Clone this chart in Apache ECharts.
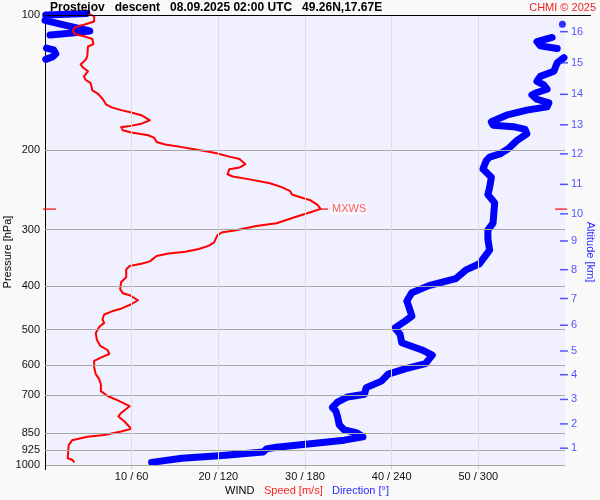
<!DOCTYPE html>
<html>
<head>
<meta charset="utf-8">
<script src="https://cdn.jsdelivr.net/npm/echarts@6/dist/echarts.min.js"></script>
<style>html,body{margin:0;padding:0;background:#f9f9f9;}#c{width:600px;height:500px;}</style>
</head>
<body>
<div id="c"></div>
<script>
// ---- data ----
const pressureTicks = [100, 200, 300, 400, 500, 600, 700, 850, 925, 1000];
const speedTicks = [10, 20, 30, 40, 50];
const directionTicks = [60, 120, 180, 240, 300];
const altitudeKm = [1, 2, 3, 4, 5, 6, 7, 8, 9, 10, 11, 12, 13, 14, 15, 16];
const altitudePressure = [917.6, 810.3, 714.9, 630.0, 558.0, 489.2, 426.6, 368.1, 317.8, 276.6, 237.9, 203.5, 175.4, 150.1, 127.7, 108.9];
const maxWindPressure = 270;
const maxWindSpeed = 31.8;

// wind speed [m/s, hPa]
const speedData = [
  [3.40, 986.6], [3.13, 973.4], [2.62, 966], [2.67, 936], [2.73, 903.7], [3.13, 880.6],
  [4.88, 865.5], [6.83, 857.8], [8.78, 842.8], [9.96, 831.3], [9.17, 800.3], [8.47, 779.9],
  [8.78, 766.3], [9.76, 740.2], [8.40, 718.6], [7.22, 702.5], [6.45, 685.3], [6.45, 661.4],
  [6.25, 644.5], [5.86, 628.1], [5.67, 606.5], [5.67, 586.9], [6.63, 575], [7.42, 566.7],
  [7.22, 555.2], [6.37, 543.6], [5.98, 527.1], [5.86, 509.2], [6.25, 493.6], [6.83, 483.3],
  [6.63, 475.0], [6.83, 463.0], [7.81, 454.9], [8.78, 449.4], [9.96, 439.3], [10.73, 430.4],
  [9.76, 419.4], [8.98, 415.1], [8.67, 406.5], [8.78, 392.7], [9.37, 382.5], [9.37, 367.6],
  [9.76, 361.3], [11.12, 357.1], [12.10, 352.8], [12.88, 343.1], [14.25, 338.9], [16.20, 335.9],
  [17.76, 331.2], [18.92, 325.5], [19.51, 320], [19.71, 314], [19.90, 308.5], [20.49, 303.8],
  [22.05, 300.7], [24.39, 294.4], [26.72, 290.3], [29.06, 280.4], [30.63, 274.3], [31.80, 269.6],
  [31.41, 263.9], [30.63, 258.1], [29.46, 254.1], [28.49, 250.6], [28.29, 246.2], [27.31, 241.3],
  [25.95, 236.6], [23.61, 231.9], [21.66, 228.6], [21.07, 225.9], [21.27, 220.1], [22.44, 218.3],
  [23.13, 214.6], [22.44, 209.0], [21.27, 206.4], [19.90, 203.1], [18.92, 201.3], [17.37, 199.0],
  [15.81, 196.6], [13.86, 194.0], [12.88, 191.6], [12.61, 187.5], [11.91, 185.0], [9.96, 182.4],
  [8.98, 180.4], [8.78, 177.5], [9.57, 176.8], [11.12, 174.4], [12.10, 171.4], [11.12, 167.0],
  [9.96, 164.7], [8.78, 162.7], [7.70, 160.4], [7.03, 157.9], [6.68, 153.9], [6.13, 149.7],
  [5.47, 147.1], [5.27, 141.7], [4.68, 139.3], [4.49, 136.9], [4.96, 133.4], [4.42, 131.0],
  [4.11, 128.8], [4.73, 125.5], [4.88, 123.3], [4.96, 117.5], [5.58, 116.1], [5.47, 113.1],
  [4.49, 111.5], [3.40, 110.2], [3.21, 108.3], [3.52, 106.4], [4.49, 105.1], [5.67, 103.4],
  [5.67, 100.6], [5.0, 99.4]
];

// wind direction [deg, hPa]; null = break (wrap-around)
const directionData = [
  [73.8, 986.6], [94.8, 966], [122.9, 952], [151.0, 936], [153.3, 921], [160.3, 913],
  [183.8, 897], [207.2, 880.6], [220.1, 865.5], [215.4, 847], [207.2, 835.7], [203.7, 814],
  [202.5, 780], [201.3, 758], [199.0, 745], [202.5, 724.5], [209.5, 706], [221.2, 696],
  [222.4, 673], [232.9, 651], [237.6, 628], [249.3, 611.5], [263.4, 595.5], [268.1, 570],
  [261.0, 555], [247.0, 535], [245.8, 512], [242.3, 496], [249.3, 479], [254.0, 467],
  [251.7, 443], [250.5, 432], [254.0, 414], [265.7, 399.4], [284.4, 385.4], [291.5, 368.5],
  [300.8, 357], [307.8, 333], [306.6, 314], [306.6, 300.7], [310.2, 290], [311.3, 261.5],
  [306.6, 250.6], [307.8, 242], [309.0, 229.5], [303.2, 220], [305.5, 210.7], [307.8, 207],
  [314.9, 203.6], [320.7, 198.3], [326.6, 190.2], [333.6, 183.6], [332.4, 179.6], [324.2, 177.1],
  [310.2, 175.7], [309.0, 172.7], [319.5, 167], [333.6, 162.7], [347.6, 160], [348.8, 156.7],
  [340.6, 153.9], [337.1, 150.5], [340.6, 148.7], [347.6, 146.2], [345.3, 143], [340.6, 140.4],
  [342.9, 136.9], [352.3, 133.4], [354.6, 127.7], [359.3, 124.4],
  null,
  [0.5, 125.5], [5, 124], [7.5, 122], [6, 119.5], [1, 118.5],
  null,
  [354.6, 118.7], [342.9, 117.1], [340.6, 114.6], [351.1, 112.2],
  null,
  [3.5, 110.8], [17, 109.8], [31, 108.5], [22, 106.8], [10, 104.6], [0, 102.8],
  null,
  [0.5, 100.0], [15, 99.6], [29, 99.2]
];
const directionDots = [[358.2, 104.9]];

// ---- chart ----
const FONT = '"Liberation Sans", Arial, sans-serif';
const BLUE = '#0000ff';
const RED = '#ff0000';
const chart = echarts.init(document.getElementById('c'), null, {renderer: 'canvas'});

const gridLines = [];
pressureTicks.slice(1).forEach(p => gridLines.push({yAxis: p, lineStyle: {color: '#a8a8a8', width: 1, type: 'solid'}}));
speedTicks.forEach(s => gridLines.push({xAxis: s, lineStyle: {color: '#dcdcdc', width: 1, type: 'solid'}}));

const option = {
  animation: false,
  backgroundColor: '#f9f9f9',
  textStyle: {fontFamily: FONT},
  grid: {left: 45, right: 35, top: 15, bottom: 35, show: true, backgroundColor: '#f0f0ff', borderWidth: 0, containLabel: false},
  xAxis: [
    {
      type: 'value', min: 0, max: 60, interval: 10, position: 'bottom',
      axisLine: {show: false},
      axisTick: {show: true, customValues: speedTicks, length: 4, lineStyle: {color: '#d0d0d0'}},
      axisLabel: {customValues: speedTicks, margin: 6, fontSize: 11, color: '#111', fontFamily: FONT,
        formatter: v => v + ' / ' + directionTicks[speedTicks.indexOf(v)]},
      splitLine: {show: false}
    },
    {type: 'value', min: 0, max: 360, show: false}
  ],
  yAxis: {
    type: 'log', logBase: 10, min: 100, max: 1000, inverse: true,
    axisLine: {show: true, lineStyle: {color: '#000', width: 1}},
    axisTick: {show: false},
    axisLabel: {customValues: pressureTicks, margin: 5, fontSize: 11, color: '#111', fontFamily: FONT,
      formatter: v => String(Math.round(v))},
    splitLine: {show: false}
  },
  series: [
    {
      type: 'line', xAxisIndex: 0, data: [], z: 1, silent: true,
      markLine: {silent: true, symbol: ['none', 'none'], label: {show: false}, animation: false, data: gridLines}
    },
    {
      type: 'line', xAxisIndex: 1, data: directionData, z: 3, clip: false,
      showSymbol: false, connectNulls: false, silent: true,
      lineStyle: {color: BLUE, width: 7, cap: 'round', join: 'round'}
    },
    {
      type: 'scatter', xAxisIndex: 1, data: directionDots, z: 3, clip: false, silent: true,
      symbol: 'circle', symbolSize: 7, itemStyle: {color: BLUE}
    },
    {
      type: 'line', xAxisIndex: 0, data: speedData, z: 4, clip: false,
      showSymbol: false, silent: true,
      lineStyle: {color: RED, width: 2, join: 'round'}
    },
    {
      type: 'scatter', xAxisIndex: 0, z: 5, clip: false, silent: true,
      data: altitudePressure.map((p, i) => [60, p, altitudeKm[i]]),
      symbol: 'rect', symbolSize: [8, 1.5], symbolOffset: [-1, 0],
      itemStyle: {color: '#2a2aff'},
      label: {show: true, position: 'right', distance: 3, formatter: d => String(d.value[2]),
        color: '#2a2aff', fontSize: 11, fontFamily: FONT}
    },
    {
      type: 'scatter', xAxisIndex: 0, z: 5, clip: false, silent: true,
      data: [
        {value: [0, maxWindPressure], symbolSize: [13, 1.5], symbolOffset: [4.5, 0]},
        {value: [60, maxWindPressure], symbolSize: [12, 1.5], symbolOffset: [-4, 0]}
      ],
      symbol: 'rect', itemStyle: {color: RED}
    },
    {
      type: 'scatter', xAxisIndex: 0, z: 5, clip: false, silent: true,
      data: [[maxWindSpeed, maxWindPressure]],
      symbol: 'rect', symbolSize: [7, 1.5], symbolOffset: [4, 0],
      itemStyle: {color: RED},
      label: {show: true, position: 'right', distance: 3, formatter: 'MXWS', color: '#ff3030',
        fontSize: 11, fontFamily: FONT, backgroundColor: 'rgba(255,255,255,0.85)', padding: [0, 1]}
    }
  ],
  graphic: [
    {type: 'line', shape: {x1: 45, y1: 15.5, x2: 591, y2: 15.5}, style: {stroke: '#000', lineWidth: 1}, z: 10},
    {type: 'line', shape: {x1: 45.5, y1: 464, x2: 45.5, y2: 470}, style: {stroke: '#000', lineWidth: 1}, z: 10},
    {type: 'text', x: 50, y: 8, style: {text: 'Prostejov   descent   08.09.2025 02:00 UTC   49.26N,17.67E',
      font: 'bold 12px ' + FONT, fill: '#000', align: 'left', verticalAlign: 'middle'}, z: 10},
    {type: 'text', x: 596, y: 8, style: {text: 'CHMI © 2025', font: '11px ' + FONT, fill: '#ee2222',
      align: 'right', verticalAlign: 'middle'}, z: 10},
    {type: 'text', x: 8, y: 252, rotation: Math.PI / 2, style: {text: 'Pressure [hPa]', font: '11px ' + FONT,
      fill: '#000', align: 'center', verticalAlign: 'middle'}, z: 10},
    {type: 'text', x: 590, y: 252, rotation: -Math.PI / 2, style: {text: 'Altitude [km]', font: '11px ' + FONT,
      fill: '#2a2aff', align: 'center', verticalAlign: 'middle'}, z: 10},
    {type: 'text', x: 225, y: 491, style: {text: 'WIND', font: '11px ' + FONT, fill: '#000', align: 'left', verticalAlign: 'middle'}, z: 10},
    {type: 'text', x: 264, y: 491, style: {text: 'Speed [m/s]', font: '11px ' + FONT, fill: '#ff2020', align: 'left', verticalAlign: 'middle'}, z: 10},
    {type: 'text', x: 332, y: 491, style: {text: 'Direction [°]', font: '11px ' + FONT, fill: '#2a2aff', align: 'left', verticalAlign: 'middle'}, z: 10}
  ]
};
chart.setOption(option);
</script>
</body>
</html>
